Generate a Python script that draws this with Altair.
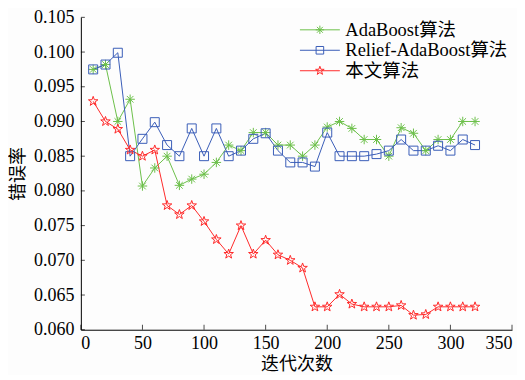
import altair as alt
import pandas as pd

x_vals = list(range(10, 330, 10))

ada = [0.0975, 0.0982, 0.0900, 0.0932, 0.0807, 0.0833, 0.0850, 0.0808, 0.0817, 0.0824,
       0.0841, 0.0866, 0.0858, 0.0884, 0.0884, 0.0866, 0.0866, 0.0850, 0.0866, 0.0892,
       0.0900, 0.0890, 0.0874, 0.0874, 0.0850, 0.0891, 0.0883, 0.0858, 0.0874, 0.0874,
       0.0900, 0.0900]
relief = [0.0975, 0.0982, 0.0999, 0.0850, 0.0875, 0.0899, 0.0866, 0.0850, 0.0890, 0.0850,
          0.0890, 0.0850, 0.0858, 0.0875, 0.0883, 0.0858, 0.0841, 0.0841, 0.0835, 0.0884,
          0.0850, 0.0850, 0.0850, 0.0853, 0.0858, 0.0874, 0.0858, 0.0858, 0.0865, 0.0858,
          0.0874, 0.0866]
ours = [0.0929, 0.0900, 0.0889, 0.0859, 0.0850, 0.0859, 0.0779, 0.0766, 0.0779, 0.0756,
        0.0730, 0.0709, 0.0750, 0.0709, 0.0729, 0.0708, 0.0700, 0.0689, 0.0633, 0.0633,
        0.0651, 0.0637, 0.0633, 0.0633, 0.0633, 0.0635, 0.0621, 0.0622, 0.0633, 0.0633,
        0.0633, 0.0633]

series_names = ["AdaBoost算法", "Relief-AdaBoost算法", "本文算法"]
series_colors = ["#6cc04a", "#3a5db8", "#ff2a2a"]

y_ticks = [0.060, 0.065, 0.070, 0.075, 0.080, 0.085, 0.090, 0.095, 0.100, 0.105]
x_ticks = [0, 50, 100, 150, 200, 250, 300, 350]

FONT = "Liberation Serif, Noto Sans CJK SC"

rows = []
for name, vals in zip(series_names, [ada, relief, ours]):
    for xv, yv in zip(x_vals, vals):
        rows.append({"series": name, "x": xv, "y": yv})
df = pd.DataFrame(rows)

# marker paths (unit coordinates)
aster_segs = [(-1, 0, 1, 0), (0, -1, 0, 1), (-0.7, -0.7, 0.7, 0.7), (-0.7, 0.7, 0.7, -0.7)]
star_pts = [(0, -1), (0.235, -0.324), (0.951, -0.309), (0.380, 0.124), (0.588, 0.809),
            (0, 0.4), (-0.588, 0.809), (-0.380, 0.124), (-0.951, -0.309), (-0.235, -0.324)]


def aster_path(s):
    return "".join(f"M{a*s:.3f},{b*s:.3f}L{c*s:.3f},{d*s:.3f}" for a, b, c, d in aster_segs)


def square_path(s):
    return f"M{-s:.3f},{-s:.3f}L{s:.3f},{-s:.3f}L{s:.3f},{s:.3f}L{-s:.3f},{s:.3f}Z"


def star_path(s):
    return "M" + "L".join(f"{a*s:.3f},{b*s:.3f}" for a, b in star_pts) + "Z"


marker_paths = [aster_path(1), square_path(1), star_path(1)]
marker_sizes = [90, 81, 100]
legend_paths = ["M-2,0L2,0" + aster_path(0.42),
                "M-2,0L2,0" + square_path(0.38),
                "M-2,0L2,0" + star_path(0.45)]

color_scale = alt.Scale(domain=series_names, range=series_colors)
legend_shape_scale = alt.Scale(domain=series_names, range=legend_paths)

xscale = alt.Scale(domain=[0, 350])
yscale = alt.Scale(domain=[0.060, 0.105], zero=False)
xaxis = alt.Axis(values=x_ticks, title="迭代次数", grid=False, ticks=False,
                 labelPadding=5, titlePadding=3, labelOverlap=False,
                 labelFont=FONT, labelFontSize=18, labelColor="black",
                 titleFont=FONT, titleFontSize=18, titleColor="black", titleFontWeight="normal",
                 domainColor="black", domainWidth=1)
yaxis = alt.Axis(values=y_ticks, format=".3f", title="错误率", grid=False,
                 ticks=False, labelPadding=7, titlePadding=6, labelOverlap=False,
                 labelFont=FONT, labelFontSize=18, labelColor="black",
                 titleFont=FONT, titleFontSize=18, titleColor="black", titleFontWeight="normal",
                 domainColor="black", domainWidth=1)
xenc = alt.X("x:Q", scale=xscale, axis=xaxis)
yenc = alt.Y("y:Q", scale=yscale, axis=yaxis)

legend = alt.Legend(
    title=None, orient="none", legendX=229, legendY=2, padding=0,
    symbolSize=400, symbolStrokeWidth=1, labelOffset=15, rowPadding=0.5,
    symbolFillColor="transparent", symbolOpacity=1,
    labelFont=FONT, labelFontSize=18.5, labelColor="black", labelLimit=300,
)

color_enc = alt.Color("series:N", scale=color_scale, legend=legend, sort=series_names)

lines = alt.Chart(df).mark_line(strokeWidth=1).encode(x=xenc, y=yenc, color=color_enc)

point_layers = []
for name, path, sz in zip(series_names, marker_paths, marker_sizes):
    point_layers.append(
        alt.Chart(df).transform_filter(alt.datum.series == name)
        .mark_point(filled=False, strokeWidth=1, size=sz, opacity=1, shape=path)
        .encode(x=xenc, y=yenc, color=color_enc)
    )

ghost = alt.Chart(df).mark_point(filled=False, size=0, strokeWidth=1).encode(
    x=xenc, y=yenc, color=color_enc,
    shape=alt.Shape("series:N", scale=legend_shape_scale, legend=legend, sort=series_names),
)

# inward tick marks at the axis tick values
ydf = pd.DataFrame({"y": y_ticks})
xdf = pd.DataFrame({"x": x_ticks})
yt = alt.Chart(ydf).mark_tick(orient="horizontal", size=4, thickness=1, color="black",
                              xOffset=2).encode(y=yenc, x=alt.value(0))
xt = alt.Chart(xdf).mark_tick(orient="vertical", size=5, thickness=1, color="black",
                              yOffset=-2.5).encode(x=xenc, y=alt.value(313))

chart = alt.layer(lines, *point_layers, ghost, yt, xt).properties(
    width=432, height=313,
    autosize=alt.AutoSizeParams(type="none"),
    padding={"left": 73, "top": 9, "right": 5, "bottom": 45},
    background="#fdfdfd",
).configure_view(stroke=None)

chart.save("out.html", embed_options={"renderer": "svg", "actions": False})
